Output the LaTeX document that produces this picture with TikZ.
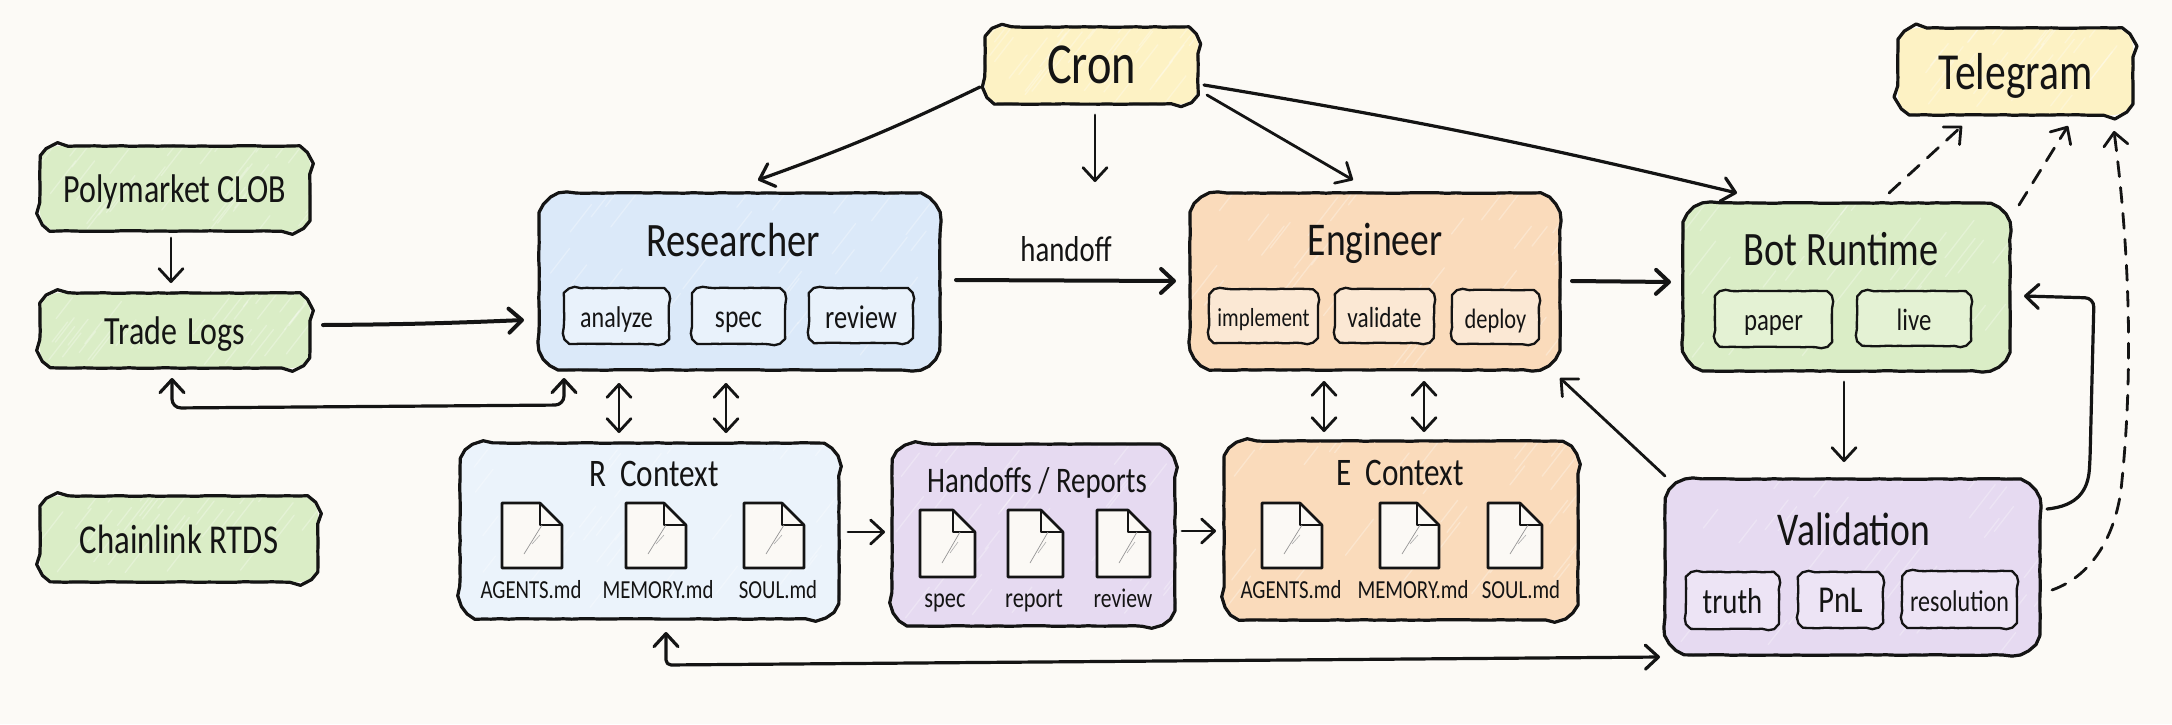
\documentclass[tikz,border=0pt]{standalone}
\usepackage{fontspec}
\setmainfont[FakeStretch=0.8]{Carlito}
\usetikzlibrary{arrows.meta,calc,decorations.pathmorphing}
\definecolor{paperbg}{HTML}{FCFAF6}
\definecolor{ink}{HTML}{141414}
\definecolor{gr}{HTML}{DAEDC6}
\definecolor{grl}{HTML}{E4F2D4}
\definecolor{bl}{HTML}{DBE9F9}
\definecolor{bll}{HTML}{E9F2FB}
\definecolor{blc}{HTML}{EBF3FB}
\definecolor{or}{HTML}{FADBBB}
\definecolor{orl}{HTML}{FBE8D4}
\definecolor{pu}{HTML}{E6DAF1}
\definecolor{pul}{HTML}{EDE4F5}
\definecolor{ye}{HTML}{FDF2C4}
\definecolor{docw}{HTML}{FBF9F5}
\tikzset{
  x=1pt,y=-1pt,
  >={Straight Barb[length=13pt,width=24pt,round]},
  sk/.style={draw=ink,line width=3.2pt,line join=round,line cap=round,decorate,
    decoration={random steps,segment length=9pt,amplitude=.35pt},
    postaction={draw=ink,line width=2pt,line cap=round,decorate,
      decoration={random steps,segment length=14pt,amplitude=1pt}}},
  skthin/.style={draw=ink,line width=2.3pt,line join=round,line cap=round,decorate,
    decoration={random steps,segment length=6pt,amplitude=.3pt}},
  skbox/.style={inner sep=0pt,outer sep=0pt,text=ink,align=center},
  lab/.style={inner sep=0pt,outer sep=0pt,text=ink},
  conn/.style={draw=ink,line cap=round,line join=round},
  w1/.style={line width=2.8pt},
  w2/.style={line width=3.2pt},
  w3/.style={line width=4pt},
  dsh/.style={dash pattern=on 15pt off 11pt},
}
\newcommand{\lowered}[1]{\raisebox{0pt}[\dimexpr\height+8pt\relax]{#1\vphantom{Ag}}}
\newcommand{\rrpath}[5]{%
  ({(#1+#3)/2},#2) -- (#3-#5,#2) .. controls (#3-.45*#5,#2) and (#3,#2+.45*#5) .. (#3,#2+#5)
  -- (#3,#4-#5) .. controls (#3,#4-.45*#5) and (#3-.45*#5,#4) .. (#3-#5,#4)
  -- (#1+#5,#4) .. controls (#1+.45*#5,#4) and (#1,#4-.45*#5) .. (#1,#4-#5)
  -- (#1,#2+#5) .. controls (#1,#2+.45*#5) and (#1+.45*#5,#2) .. (#1+#5,#2) -- ({(#1+#3)/2},#2)}
\newcommand{\hatchfill}[6]{%
  \fill[#5,rounded corners=#6] (#1,#2) rectangle (#3,#4);
  \begin{scope}
    \clip[rounded corners=#6] (#1,#2) rectangle (#3,#4);
    \foreach \i in {1,...,34}{
      \pgfmathsetmacro\hx{#1+rnd*(#3-#1)}
      \pgfmathsetmacro\hy{#2+rnd*(#4-#2)}
      \pgfmathsetmacro\hl{18+rnd*30}
      \draw[white,opacity=.28,line width=1.3pt,line cap=round] (\hx,\hy) -- ++(\hl*.62,-\hl*.8);
    }
  \end{scope}}
\newcommand{\mainbox}[8]{%
  \hatchfill{#2}{#3}{#4}{#5}{#6}{#7}
  \draw[sk] \rrpath{#2}{#3}{#4}{#5}{#7};
  \pgfmathsetmacro\bcx{(#2+#4)/2}\pgfmathsetmacro\bcy{(#3+#5)/2}
  \pgfmathsetmacro\bw{#4-#2}\pgfmathsetmacro\bh{#5-#3}
  \node[skbox,minimum width=\bw pt,minimum height=\bh pt] (#1) at (\bcx,\bcy) {#8};}
% name x1 y1 x2 y2 fill size text
\newcommand{\subbox}[8]{%
  \fill[#6,rounded corners=11pt] (#2,#3) rectangle (#4,#5);
  \draw[skthin] \rrpath{#2}{#3}{#4}{#5}{11};
  \pgfmathsetmacro\bcx{(#2+#4)/2}\pgfmathsetmacro\bcy{(#3+#5)/2}
  \pgfmathsetmacro\bw{#4-#2}\pgfmathsetmacro\bh{#5-#3}
  \node[skbox,minimum width=\bw pt,minimum height=\bh pt,font=\fontsize{#7}{#7}\selectfont] (#1) at (\bcx,\bcy) {\lowered{#8}};}
\newcommand{\docicon}[4]{%
  \draw[ink,fill=docw,line width=2.6pt,line join=round] (#1,#2) -- (#3-22,#2) -- (#3,#2+22) -- (#3,#4) -- (#1,#4) -- cycle;
  \draw[ink,line width=2.6pt,line join=round] (#3-22,#2) -- (#3-22,#2+22) -- (#3,#2+22);
  \draw[ink!45,line width=.7pt] (#1+22,#4-14) -- (#1+40,#2+22);
  \draw[ink!35,line width=.6pt] (#1+30,#4-24) -- (#1+38,#2+32);}
\newcommand{\lbl}[5]{\node[lab,yshift=-3.5pt,font=\fontsize{#4}{#4}\selectfont] (#1) at (#2,#3) {#5\vphantom{Ag}};}
\begin{document}
\begin{tikzpicture}
\useasboundingbox (0,0) rectangle (2172,724);
\fill[paperbg] (0,0) rectangle (2172,724);
\pgfmathsetseed{7}
% sources
\mainbox{poly}{40}{146}{310}{231}{gr}{19}{\fontsize{40}{42}\selectfont\lowered{Polymarket CLOB}}
\mainbox{trade}{40}{293}{310}{368}{gr}{19}{\fontsize{40}{42}\selectfont\lowered{Trade\hspace{.25em}Logs}}
\mainbox{chain}{40}{496}{318}{582}{gr}{19}{\fontsize{41}{42}\selectfont\lowered{Chainlink RTDS}}
% top
\mainbox{cron}{985}{27}{1198}{104}{ye}{18}{\fontsize{58}{60}\selectfont\lowered{Cron}}
\mainbox{tele}{1898}{28}{2133}{115}{ye}{20}{\fontsize{52}{54}\selectfont\lowered{Telegram}}
% agents
\mainbox{res}{539}{193}{940}{370}{bl}{28}{}
\mainbox{eng}{1190}{193}{1560}{370}{or}{28}{}
\mainbox{bot}{1683}{203}{2010}{371}{gr}{28}{}
\lbl{resT}{733}{240}{48}{Researcher}
\lbl{engT}{1375}{240}{47}{Engineer}
\lbl{botT}{1841}{250}{48}{Bot Runtime}
\subbox{analyze}{564}{288}{669}{344}{bll}{30}{analyze}
\subbox{rspec}{692}{288}{785}{344}{bll}{32}{spec}
\subbox{rreview}{809}{288}{913}{343}{bll}{33}{review}
\subbox{impl}{1209}{289}{1318}{343}{orl}{26}{implement}
\subbox{valid}{1335}{289}{1434}{343}{orl}{29}{validate}
\subbox{deploy}{1452}{290}{1539}{344}{orl}{28}{deploy}
\subbox{paperb}{1715}{291}{1832}{347}{grl}{31}{paper}
\subbox{liveb}{1857}{291}{1971}{346}{grl}{31}{live}
% contexts
\mainbox{rctx}{460}{443}{839}{619}{blc}{24}{}
\mainbox{hand}{892}{444}{1175}{626}{pu}{24}{}
\mainbox{ectx}{1224}{441}{1578}{620}{or}{24}{}
\mainbox{val}{1665}{479}{2040}{655}{pu}{28}{}
\lbl{rctxT}{654}{474}{39}{R\ \ Context}
\lbl{handT}{1037}{480}{36}{Handoffs / Reports}
\lbl{ectxT}{1400}{473}{39}{E\ \ Context}
\lbl{valT}{1854}{530}{47}{Validation}
\subbox{truth}{1686}{572}{1779}{629}{pul}{36}{truth}
\subbox{pnl}{1798}{572}{1883}{628}{pul}{38}{PnL}
\subbox{resol}{1902}{571}{2017}{628}{pul}{30}{resolution}
% documents
\docicon{502}{503}{562}{568}
\docicon{626}{503}{686}{568}
\docicon{744}{503}{804}{568}
\docicon{920}{510}{975}{577}
\docicon{1008}{510}{1063}{577}
\docicon{1097}{510}{1150}{577}
\docicon{1262}{503}{1322}{568}
\docicon{1380}{503}{1439}{568}
\docicon{1488}{503}{1542}{568}
\lbl{f1}{531}{588}{26}{AGENTS.md}
\lbl{f2}{658}{588}{26}{MEMORY.md}
\lbl{f3}{778}{588}{26}{SOUL.md}
\lbl{f4}{945}{597}{28}{spec}
\lbl{f5}{1034}{597}{28}{report}
\lbl{f6}{1123}{597}{27}{review}
\lbl{f7}{1291}{588}{26}{AGENTS.md}
\lbl{f8}{1413}{588}{26}{MEMORY.md}
\lbl{f9}{1521}{588}{26}{SOUL.md}
\lbl{handoffL}{1066}{249}{36}{handoff}
% connectors
\draw[conn,w1,->] ($(poly.south)+(-4,7)$) -- ($(trade.north)+(-4,-10)$);
\draw[conn,w3,->] ($(trade.east)+(13,-5.5)$) to[bend right=1] ($(res.west)+(-15,38.5)$);
\draw[conn,w2,<->,rounded corners=9pt] ($(trade.south)+(-3,10)$) -- ++(0,30) -- ($(res.south)+(-175.5,35)$) -- ($(res.south)+(-175.5,8)$);
\draw[conn,w1,<->] ($(res.south)+(-120.5,13)$) -- ($(rctx.north)+(-30.5,-10)$);
\draw[conn,w1,<->] ($(res.south)+(-13.5,13)$) -- ($(rctx.north)+(76.5,-10)$);
\draw[conn,w1,<->] ($(eng.south)+(-51,11)$) -- ($(ectx.north)+(-77,-9)$);
\draw[conn,w1,<->] ($(eng.south)+(49,11)$) -- ($(ectx.north)+(23,-9)$);
\draw[conn,w3,->] ($(res.east)+(16,-1.5)$) -- ($(eng.west)+(-14,-.5)$);
\draw[conn,w3,->] ($(eng.east)+(12,-.5)$) -- ($(bot.west)+(-12,-5)$);
\draw[conn,w2,->] ($(cron.west)+(-5,21.5)$) to[bend left=3] ($(res.north)+(18.5,-13)$);
\draw[conn,w1,->] ($(cron.south)+(3.5,11)$) -- ($(cron.south)+(3.5,78)$);
\draw[conn,w1,->] ($(cron.east)+(9,29.5)$) -- ($(eng.north)+(-22,-13)$);
\draw[conn,w2,->] ($(cron.east)+(6,19.5)$) to[bend left=2] ($(bot.north)+(-109.5,-10)$);
\draw[conn,w1,dsh,->] ($(bot.north)+(42.5,-10)$) -- ($(tele.south)+(-53.5,11)$);
\draw[conn,w1,dsh,->] ($(bot.east)+(9,-82)$) -- ($(tele.south)+(52.5,11)$);
\draw[conn,w1,dsh,->] ($(val.east)+(12,23)$) .. controls (2095,575) and (2118,530) .. (2122,480) .. controls (2128,420) and (2136,300) .. ($(tele.south)+(98.5,16)$);
\draw[conn,w2,->,rounded corners=9pt] ($(val.east)+(7,-58)$) .. controls (2078,506) and (2088,490) .. (2090,460) -- (2094,298) -- ($(bot.east)+(14,9)$);
\draw[conn,w1,->] ($(bot.south)+(-2.5,11)$) -- ($(val.north)+(-8.5,-17)$);
\draw[conn,w1,->] ($(val.north west)+(0,-3)$) -- ($(eng.south east)+(0,8)$);
\draw[conn,w1,->] ($(rctx.east)+(9,1)$) -- ($(hand.west)+(-7,-3)$);
\draw[conn,w1,->] ($(hand.east)+(7,-4)$) -- ($(ectx.west)+(-8,.5)$);
\draw[conn,w2,<->,rounded corners=5pt] ($(rctx.south)+(16.5,13)$) -- ++(0,33) -- ($(val.west)+(-5,90)$);
\end{tikzpicture}
\end{document}
